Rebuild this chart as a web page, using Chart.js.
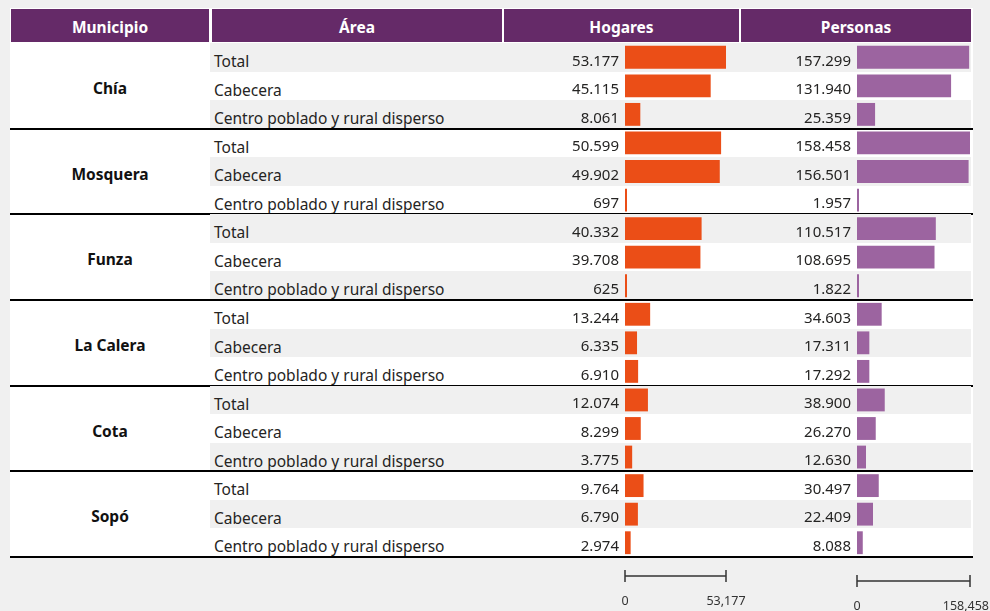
<!DOCTYPE html>
<html>
<head>
<meta charset="utf-8">
<script src="https://cdn.jsdelivr.net/npm/chart.js@4"></script>
<style>
  body { margin: 0; background: #f0f0f0; font-family: "Noto Sans", sans-serif; }
  #wrap { position: relative; width: 990px; height: 611px; overflow: hidden; }
  .abs { position: absolute; }
  .head { background: #652a68; color: #fff; font-weight: bold; font-size: 15.5px;
          text-align: center; line-height: 36px; top: 9px; height: 33px; }
  .area { left: 214px; font-size: 15.5px; color: #252423; white-space: nowrap; }
  .muni { left: 11px; width: 198px; text-align: center; font-weight: bold; font-size: 15.5px; color: #111; }
  canvas { position: absolute; }
</style>
</head>
<body>
<div id="wrap">
  <div class="abs" style="left:10px;top:8px;width:963px;height:549px;background:#fff"></div>
  <div class="abs head" style="left:11px;width:198px">Municipio</div>
  <div class="abs head" style="left:212px;width:290px">Área</div>
  <div class="abs head" style="left:504px;width:235px">Hogares</div>
  <div class="abs head" style="left:741px;width:230px">Personas</div>
  <div id="filas"></div>
  <canvas id="hogaresChart" width="256" height="568" style="left:504px;top:43px"></canvas>
  <canvas id="personasChart" width="249" height="568" style="left:741px;top:43px"></canvas>
</div>
<script>
const municipios = ['Chía', 'Mosquera', 'Funza', 'La Calera', 'Cota', 'Sopó'];
const areas = ['Total', 'Cabecera', 'Centro poblado y rural disperso'];
const hogares = [53177, 45115, 8061, 50599, 49902, 697, 40332, 39708, 625,
                 13244, 6335, 6910, 12074, 8299, 3775, 9764, 6790, 2974];
const personas = [157299, 131940, 25359, 158458, 156501, 1957, 110517, 108695, 1822,
                  34603, 17311, 17292, 38900, 26270, 12630, 30497, 22409, 8088];
const hogaresEscala = [0, Math.max(...hogares)];
const personasEscala = [0, Math.max(...personas)];

const top0 = 43;
const altoFila = 514 / 18;

function miles(n, sep) {
    return String(n).replace(/\B(?=(\d{3})+(?!\d))/g, sep);
}

// filas de la tabla: franjas, textos de área, municipio y separadores
const filas = document.getElementById('filas');
const etiquetas = [];
municipios.forEach((m, i) => {
    areas.forEach((a, j) => {
        const r = i * 3 + j;
        etiquetas.push(m + ' - ' + a);
        const y = top0 + r * altoFila;
        if (r % 2 === 0) {
            const f = document.createElement('div');
            f.className = 'abs';
            f.style.cssText = `left:210px;width:761px;top:${y}px;height:${altoFila}px;background:#f0f0f0`;
            filas.appendChild(f);
        }
        const t = document.createElement('div');
        t.className = 'abs area';
        t.style.top = (y + 4) + 'px';
        t.style.lineHeight = altoFila + 'px';
        t.textContent = a;
        filas.appendChild(t);
    });
    const g = document.createElement('div');
    g.className = 'abs muni';
    g.style.top = (top0 + i * 3 * altoFila + 3) + 'px';
    g.style.height = (3 * altoFila) + 'px';
    g.style.lineHeight = (3 * altoFila) + 'px';
    g.textContent = m;
    filas.appendChild(g);
    const s = document.createElement('div');
    s.className = 'abs';
    s.style.cssText = `left:10px;width:963px;top:${top0 + (i + 1) * 3 * altoFila - 1}px;height:2px;background:#000`;
    filas.appendChild(s);
});

const valoresPlugin = {
    id: 'valores',
    afterDatasetsDraw(chart) {
        const ctx = chart.ctx;
        const meta = chart.getDatasetMeta(0);
        const data = chart.data.datasets[0].data;
        ctx.save();
        ctx.font = '15px "Noto Sans"';
        ctx.fillStyle = '#252423';
        ctx.textAlign = 'right';
        ctx.textBaseline = 'middle';
        meta.data.forEach((bar, i) => {
            ctx.fillText(miles(data[i], '.'), chart.chartArea.left - 6, bar.y + 4);
        });
        ctx.restore();
    }
};

// barra de escala bajo la columna (0 y máximo)
const escalaPlugin = {
    id: 'escala',
    afterDraw(chart, args, opts) {
        const ctx = chart.ctx;
        const x = chart.scales.x;
        const x0 = x.getPixelForValue(opts.valores[0]);
        const x1 = x.getPixelForValue(opts.valores[1]);
        const y = opts.y;
        ctx.save();
        ctx.strokeStyle = '#333';
        ctx.lineWidth = 1.5;
        ctx.beginPath();
        ctx.moveTo(x0, y); ctx.lineTo(x1, y);
        ctx.moveTo(x0, y - 6); ctx.lineTo(x0, y + 6);
        ctx.moveTo(x1, y - 6); ctx.lineTo(x1, y + 6);
        ctx.stroke();
        ctx.font = '12.5px "Noto Sans"';
        ctx.fillStyle = '#333';
        ctx.textAlign = 'center';
        ctx.textBaseline = 'middle';
        const fin = miles(opts.valores[1], ',');
        const w = ctx.measureText(fin).width;
        const xf = Math.min(x1, chart.width - w / 2 - 1);
        ctx.fillText(miles(opts.valores[0], ','), x0, y + 25);
        ctx.fillText(fin, xf, y + 25);
        ctx.restore();
    }
};

function crearBarras(id, valores, escala, color, padding, ejeY) {
    return new Chart(document.getElementById(id), {
        type: 'bar',
        data: {
            labels: etiquetas,
            datasets: [{
                data: valores,
                backgroundColor: color,
                barPercentage: 0.8,
                categoryPercentage: 1,
                minBarLength: 2
            }]
        },
        options: {
            indexAxis: 'y',
            responsive: false,
            animation: false,
            devicePixelRatio: 1,
            layout: { padding: padding },
            scales: {
                x: { display: false, min: escala[0], max: escala[1] },
                y: { display: false }
            },
            plugins: {
                legend: { display: false },
                tooltip: { enabled: false },
                escala: { valores: escala, y: ejeY }
            }
        },
        plugins: [valoresPlugin, escalaPlugin]
    });
}

crearBarras('hogaresChart', hogares, hogaresEscala, '#eb4e17',
    { left: 121, right: 34, top: 0, bottom: 54 }, 533);
crearBarras('personasChart', personas, personasEscala, '#9c64a0',
    { left: 116, right: 20, top: 0, bottom: 54 }, 538);
</script>
</body>
</html>
